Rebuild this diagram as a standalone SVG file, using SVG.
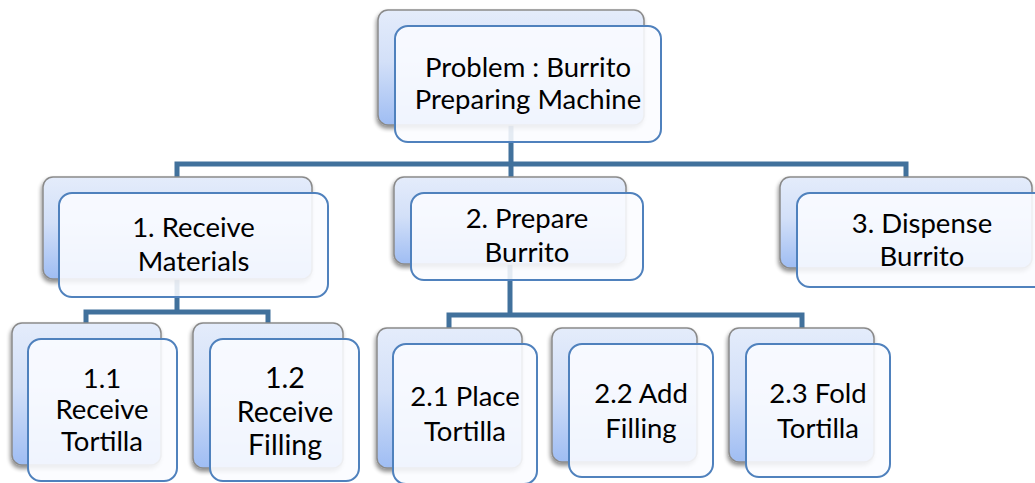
<svg xmlns="http://www.w3.org/2000/svg" width="1035" height="483" viewBox="0 0 1035 483">
  <defs>
    <linearGradient id="backFill" x1="0" y1="0" x2="0" y2="1">
      <stop offset="0" stop-color="#e4ecfb"/>
      <stop offset="0.45" stop-color="#d3e0f8"/>
      <stop offset="1" stop-color="#9fbdf3"/>
    </linearGradient>
    <filter id="shadow" x="-10%" y="-10%" width="125%" height="130%">
      <feGaussianBlur in="SourceAlpha" stdDeviation="2"/>
      <feOffset dx="-1" dy="3" result="off"/>
      <feComponentTransfer><feFuncA type="linear" slope="0.45"/></feComponentTransfer>
      <feMerge><feMergeNode/><feMergeNode in="SourceGraphic"/></feMerge>
    </filter>
    <style>
      .back { fill: url(#backFill); stroke: #8a8a8a; stroke-width: 1.5; filter: url(#shadow); }
      .front { fill: #fafcff; fill-opacity: 0.88; stroke: #4f81bd; stroke-width: 2; }
      .link { fill: none; stroke: #41719c; stroke-width: 5; stroke-linejoin: miter; }
      .t { font-family: Lato, "Liberation Sans", sans-serif; font-size: 27.5px; fill: #000; text-anchor: middle; }
      .big { font-size: 28.5px; }
    </style>
  </defs>
  <rect width="1035" height="483" fill="#ffffff"/>

  <!-- connectors, drawn beneath the boxes -->
  <g id="connectors">
    <path class="link" d="M511,125 V177"/>
    <path class="link" d="M177,177 V164 H906 V177"/>
    <path class="link" d="M177,279 V312"/>
    <path class="link" d="M86,323 V312 H268 V323"/>
    <path class="link" d="M510,264 V315"/>
    <path class="link" d="M449,328 V315 H802 V328"/>
  </g>

  <g id="root">
    <rect class="back" x="378" y="10" width="266" height="115" rx="10"/>
    <rect class="front" x="395" y="26" width="266" height="116" rx="13"/>
    <text class="t" x="528" y="77">Problem : Burrito</text>
    <text class="t" x="528" y="109">Preparing Machine</text>
  </g>

  <g id="n1">
    <rect class="back" x="43" y="177" width="269" height="102" rx="10"/>
    <rect class="front" x="59" y="193" width="269" height="104" rx="13"/>
    <text class="t" x="193.5" y="237">1. Receive</text>
    <text class="t" x="193.5" y="271">Materials</text>
  </g>

  <g id="n2">
    <rect class="back" x="394" y="177" width="232" height="87" rx="10"/>
    <rect class="front" x="411" y="193" width="232" height="87" rx="13"/>
    <text class="t" x="527" y="228">2. Prepare</text>
    <text class="t" x="527" y="262">Burrito</text>
  </g>

  <g id="n3">
    <rect class="back" x="780" y="177" width="252" height="91" rx="10"/>
    <rect class="front" x="797" y="193" width="252" height="94" rx="13"/>
    <text class="t" x="922" y="233">3. Dispense</text>
    <text class="t" x="922" y="266">Burrito</text>
  </g>

  <g id="n1_1">
    <rect class="back" x="12" y="323" width="149" height="142" rx="10"/>
    <rect class="front" x="28" y="339" width="149" height="142" rx="13"/>
    <text class="t" x="102" y="388">1.1</text>
    <text class="t" x="102" y="419">Receive</text>
    <text class="t" x="102" y="451">Tortilla</text>
  </g>

  <g id="n1_2">
    <rect class="back" x="193" y="323" width="150" height="145" rx="10"/>
    <rect class="front" x="210" y="339" width="149" height="142" rx="13"/>
    <text class="t big" x="285" y="388">1.2</text>
    <text class="t big" x="285" y="422">Receive</text>
    <text class="t big" x="285" y="455">Filling</text>
  </g>

  <g id="n2_1">
    <rect class="back" x="377" y="328" width="145" height="140" rx="10"/>
    <rect class="front" x="393" y="344" width="144" height="140" rx="13"/>
    <text class="t" x="465" y="406">2.1 Place</text>
    <text class="t" x="465" y="441">Tortilla</text>
  </g>

  <g id="n2_2">
    <rect class="back" x="552" y="328" width="145" height="134" rx="10"/>
    <rect class="front" x="569" y="344" width="144" height="133" rx="13"/>
    <text class="t" x="641" y="403">2.2 Add</text>
    <text class="t" x="641" y="438">Filling</text>
  </g>

  <g id="n2_3">
    <rect class="back" x="729" y="328" width="145" height="134" rx="10"/>
    <rect class="front" x="746" y="344" width="144" height="133" rx="13"/>
    <text class="t" x="818" y="403">2.3 Fold</text>
    <text class="t" x="818" y="438">Tortilla</text>
  </g>
</svg>
